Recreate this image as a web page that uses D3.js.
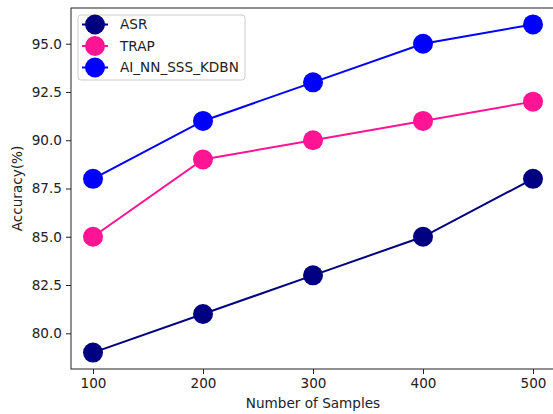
<!DOCTYPE html>
<html>
<head>
<meta charset="utf-8">
<script src="https://cdn.jsdelivr.net/npm/d3@7"></script>
<style>
  body { margin: 0; background: #fff; }
  text { font-family: "DejaVu Sans", sans-serif; }
</style>
</head>
<body>
<div class="chart"></div>
<script>
// chart data
var samples = [100, 200, 300, 400, 500];
var asr = [79, 81, 83, 85, 88];
var trap = [85, 89, 90, 91, 92];
var aiNN = [88, 91, 93, 95, 96];
var yTicks = [80.0, 82.5, 85.0, 87.5, 90.0, 92.5, 95.0];

var series = [
  { name: "ASR", values: asr, color: "#000080" },
  { name: "TRAP", values: trap, color: "#ff1493" },
  { name: "AI_NN_SSS_KDBN", values: aiNN, color: "#0000ff" }
];

var svgWidth = 553;
var svgHeight = 414;
var margin = { top: 8, right: -2, bottom: 45, left: 71 };
var width = svgWidth - margin.left - margin.right;
var height = svgHeight - margin.top - margin.bottom;
var fontSize = "13.6px";

var svg = d3.select(".chart")
  .append("svg")
  .attr("width", svgWidth)
  .attr("height", svgHeight);

var chartGroup = svg.append("g")
  .attr("transform", `translate(${margin.left}, ${margin.top})`);

var xScale = d3.scaleLinear().domain([80, 520]).range([0, width]);
var yScale = d3.scaleLinear().domain([78.15, 96.85]).range([height, 0]);

var bottomAxis = d3.axisBottom(xScale).tickValues(samples).tickSize(5).tickPadding(4).tickFormat(d3.format("d"));
var leftAxis = d3.axisLeft(yScale).tickValues(yTicks).tickSize(5).tickPadding(4).tickFormat(d3.format(".1f"));

var xAxis = chartGroup.append("g")
  .attr("transform", `translate(0, ${height})`)
  .call(bottomAxis);
var yAxis = chartGroup.append("g").call(leftAxis);

[xAxis, yAxis].forEach(function (ax) {
  ax.select(".domain").remove();
  ax.selectAll("text").style("font-size", fontSize).attr("fill", "#222");
  ax.selectAll("line").attr("stroke", "#222");
});

// frame
chartGroup.append("rect")
  .attr("width", width)
  .attr("height", height)
  .attr("fill", "none")
  .attr("stroke", "#222")
  .attr("stroke-width", 1);

var line = d3.line()
  .x((d, i) => xScale(samples[i]))
  .y(d => yScale(d));

series.forEach(function (s) {
  chartGroup.append("path")
    .datum(s.values)
    .attr("d", line)
    .attr("fill", "none")
    .attr("stroke", s.color)
    .attr("stroke-width", 2);

  chartGroup.selectAll(null)
    .data(s.values)
    .enter()
    .append("circle")
    .attr("cx", (d, i) => xScale(samples[i]))
    .attr("cy", d => yScale(d))
    .attr("r", 10)
    .attr("fill", s.color);
});

// legend
var legend = chartGroup.append("g").attr("transform", "translate(7, 7)");
legend.append("rect")
  .attr("width", 167)
  .attr("height", 65)
  .attr("rx", 3)
  .attr("fill", "#fff")
  .attr("fill-opacity", 0.8)
  .attr("stroke", "#ccc");

series.forEach(function (s, i) {
  var y = 9.5 + i * 21.5;
  legend.append("line")
    .attr("x1", 4).attr("x2", 30)
    .attr("y1", y).attr("y2", y)
    .attr("stroke", s.color)
    .attr("stroke-width", 2);
  legend.append("circle")
    .attr("cx", 17).attr("cy", y).attr("r", 10)
    .attr("fill", s.color);
  legend.append("text")
    .attr("x", 42).attr("y", y)
    .attr("dy", "0.35em")
    .style("font-size", fontSize)
    .attr("fill", "#222")
    .text(s.name);
});

// axis labels
svg.append("text")
  .attr("x", margin.left + xScale(300))
  .attr("y", 408)
  .attr("text-anchor", "middle")
  .style("font-size", fontSize)
  .attr("fill", "#222")
  .text("Number of Samples");

svg.append("text")
  .attr("transform", `translate(22, ${margin.top + height / 2}) rotate(-90)`)
  .attr("text-anchor", "middle")
  .style("font-size", fontSize)
  .attr("fill", "#222")
  .text("Accuracy(%)");
</script>
</body>
</html>
